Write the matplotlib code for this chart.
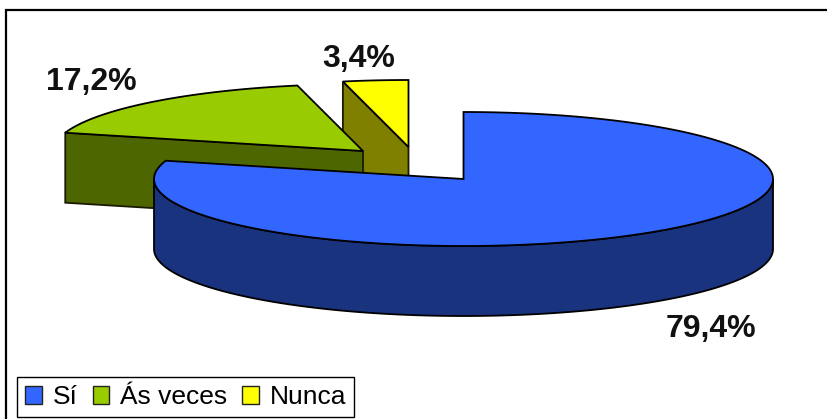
import numpy as np
import matplotlib
matplotlib.use("Agg")
import matplotlib.pyplot as plt
from matplotlib.patches import Polygon, Patch

# --- Data ---
labels = ["Sí", "Ás veces", "Nunca"]
values = [79.4, 17.2, 3.4]
value_text = ["79,4%", "17,2%", "3,4%"]

# --- Colours: top face, side face ---
top_colors = ["#3366FF", "#99CC00", "#FFFF00"]
side_colors = ["#1A337F", "#4D6600", "#7F7F00"]

# --- Layout in image pixels ---
centers = [(463.5, 179), (363, 151), (408.5, 147)]
label_pos = [(711, 329), (91, 82), (359, 59)]
rx, ry, depth = 309.5, 67, 70

plt.rcParams['font.family'] = ['Liberation Sans', 'DejaVu Sans']
fig = plt.figure(figsize=(8.27, 4.19), dpi=100)
ax = fig.add_axes([0, 0, 1, 1])
ax.set_xlim(0, 827)
ax.set_ylim(419, 0)
ax.axis('off')

# slice angles, clockwise from 12 o'clock
angles = 90 - np.cumsum([0] + values) * 3.6


def arc(cx, cy, a1, a2, dy=0):
    t = np.radians(np.linspace(a1, a2, 200))
    return np.column_stack([cx + rx * np.cos(t), cy - ry * np.sin(t) + dy])


# draw back slices first, blue last
for i in [2, 1, 0]:
    cx, cy = centers[i]
    a1, a2 = angles[i], angles[i + 1]

    # cut face showing on the exploded slices
    if i > 0:
        edge = arc(cx, cy, a1, a1)[0]
        cut = [(cx, cy), tuple(edge), (edge[0], edge[1] + depth), (cx, cy + depth)]
        ax.add_patch(Polygon(cut, fc=side_colors[i], ec='#1a1a00', lw=1.3, zorder=i * -2 + 5))
    else:
        # outer wall, front half of the ellipse only
        upper = arc(cx, cy, -180, 0)
        wall = np.vstack([upper, arc(cx, cy, 0, -180, depth)])
        ax.add_patch(Polygon(wall, fc=side_colors[i], ec='black', lw=1.3, zorder=5))

    top = np.vstack([[(cx, cy)], arc(cx, cy, a1, a2)])
    ax.add_patch(Polygon(top, fc=top_colors[i], ec='black', lw=1.3, zorder=i * -2 + 6))

# --- Percent labels ---
for txt, (x, y) in zip(value_text, label_pos):
    ax.text(x, y, txt, fontsize=23, fontweight='bold', color='#111111',
            ha='center', va='center')

# --- Chart frame, top and left edges only ---
ax.plot([6, 6, 827], [419, 10, 10], color='black', lw=1.6, solid_joinstyle='miter')

# --- Legend ---
handles = [Patch(fc=c, ec='#222222', lw=1) for c in top_colors]
leg = ax.legend(handles, labels, ncol=3, loc='lower left',
                bbox_to_anchor=(17 / 827, 2 / 419), borderaxespad=0,
                fontsize=19, frameon=True, fancybox=False, edgecolor='black',
                framealpha=1, handlelength=0.64, handleheight=0.66, handletextpad=0.4,
                columnspacing=0.58, borderpad=0.3, labelspacing=0)
leg.get_frame().set_linewidth(1)

fig.savefig("out.png", dpi=100)
